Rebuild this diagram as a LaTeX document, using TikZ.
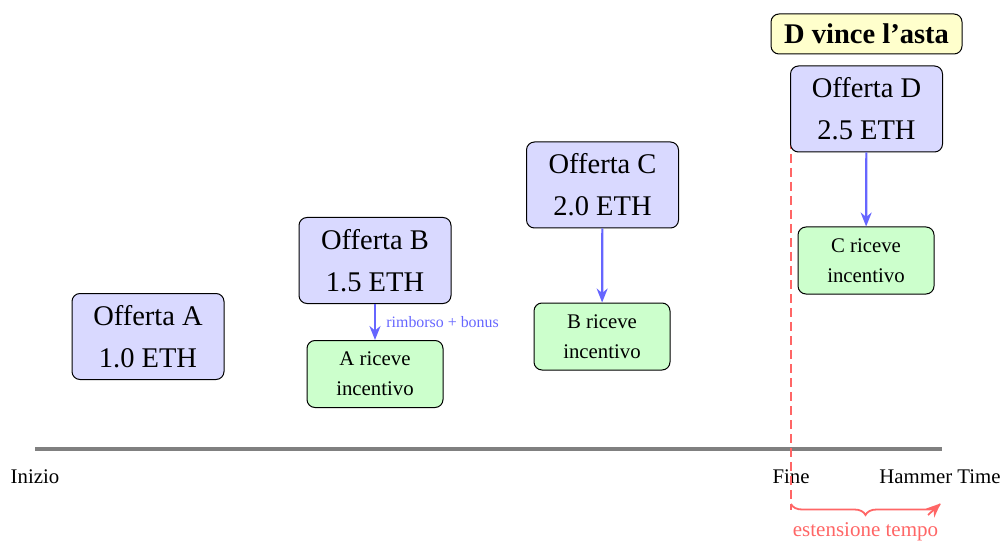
\documentclass[tikz,border=0pt]{standalone}
\usepackage{fontspec}
\setmainfont{Liberation Serif}
\usetikzlibrary{arrows.meta,decorations.pathreplacing}
\definecolor{bidfill}{RGB}{217,217,255}
\definecolor{rewardfill}{RGB}{204,255,204}
\definecolor{winfill}{RGB}{255,255,204}
\definecolor{flowblue}{RGB}{102,102,255}
\definecolor{extred}{RGB}{255,102,102}
\tikzset{
  bidbox/.style={draw=black, line width=1pt, rounded corners=8pt, fill=bidfill,
    minimum width=152pt, minimum height=86pt, align=center, inner sep=2pt,
    font=\fontsize{28.5}{42}\selectfont},
  rewardbox/.style={draw=black, line width=1pt, rounded corners=8pt, fill=rewardfill,
    minimum width=136pt, minimum height=67pt, align=center, inner sep=2pt,
    font=\fontsize{20.8}{30}\selectfont},
  winbox/.style={draw=black, line width=1pt, rounded corners=8pt, fill=winfill,
    minimum width=191pt, minimum height=40pt, inner sep=2pt,
    font=\fontsize{28.5}{34}\selectfont\bfseries},
  flow/.style={draw=flowblue, line width=2.2pt, -{Stealth[length=14pt,width=11pt]}},
  ticklabel/.style={font=\fontsize{20.8}{25}\selectfont, inner sep=0pt},
}
\begin{document}
\begin{tikzpicture}[x=1pt,y=-1pt]
\useasboundingbox (0,0) rectangle (1006,545);

% time axis
\coordinate (axisL) at (35,449);
\coordinate (axisR) at (942,449);
\draw[gray, line width=3.4pt] (axisL) -- (axisR);
\node[ticklabel] (start) at (35,477) {Inizio};
\node[ticklabel] (end) at (791,477) {Fine};
\node[ticklabel] (hammer) at (940,477) {Hammer Time};

% bids
\node[bidbox] (bidA) at (148,336.5) {Offerta A\\1.0 ETH};
\node[bidbox] (bidB) at (375,260.5) {Offerta B\\1.5 ETH};
\node[bidbox] (bidC) at (602.5,185) {Offerta C\\2.0 ETH};

% deadline marker
\coordinate (dtop) at (791,112);
\coordinate (dbot) at (791,510);
\draw[extred, line width=1.8pt, dash pattern=on 9pt off 5pt] (dtop) -- (dbot);

\node[bidbox] (bidD) at (866.5,109) {Offerta D\\2.5 ETH};
\node[winbox] (win) at (866.5,34) {D vince l’asta};

% outbid rewards
\node[rewardbox] (rewA) at (375,374) {A riceve\\incentivo};
\node[rewardbox] (rewB) at (602,336.5) {B riceve\\incentivo};
\node[rewardbox] (rewC) at (866,260.5) {C riceve\\incentivo};

\draw[flow] (bidB) -- (rewA) node[midway, right, xshift=7pt, text=flowblue,
  font=\fontsize{15.9}{19}\selectfont] {rimborso + bonus};
\draw[flow] (bidC) -- (rewB);
\draw[flow] (bidD) -- (rewC);

% extension of the deadline
\coordinate (extL) at (791,504);
\coordinate (extR) at (940,504);
\draw[extred, line width=1.8pt,
  decorate, decoration={brace, mirror, amplitude=11pt}] (extL) -- (extR)
  node[midway, below, yshift=-14pt, text=extred, font=\fontsize{21}{25}\selectfont] (extlabel) {estensione tempo};
\draw[extred, line width=1.8pt, -{Stealth[length=14pt,width=12pt]}]
  ([shift={(-12,11)}]extR) -- ([shift={(0.5,-0.5)}]extR);
\end{tikzpicture}
\end{document}
